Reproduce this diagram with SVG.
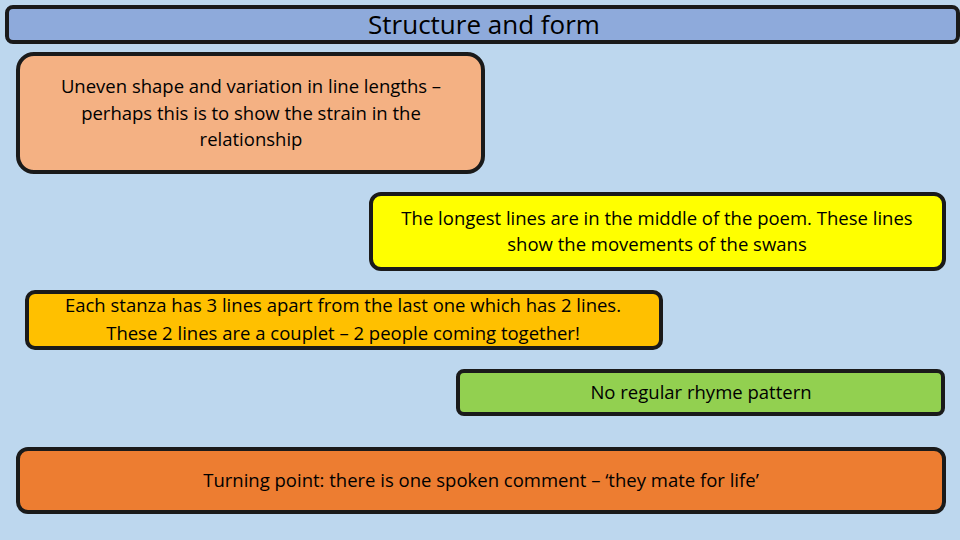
<svg xmlns="http://www.w3.org/2000/svg" width="960" height="540" viewBox="0 0 960 540">
<style>
.b{stroke:#1a1a1a;stroke-width:4}
.t{font-family:"Open Sans","Liberation Sans",sans-serif;font-size:18.5px;font-weight:500;fill:#000;text-anchor:middle}
</style>
<rect width="960" height="540" fill="#BDD7EE"/>
<g id="title"><rect class="b" x="7" y="7" width="951" height="35" rx="6" fill="#8EAADB"/>
<text class="t" x="484" y="34" style="font-size:26px">Structure and form</text></g>
<g id="n1"><rect class="b" x="18" y="54" width="465" height="118" rx="16" fill="#F4B183"/>
<text class="t" x="251" y="93">Uneven shape and variation in line lengths –</text>
<text class="t" x="251" y="120">perhaps this is to show the strain in the</text>
<text class="t" x="251" y="146">relationship</text></g>
<g id="n2"><rect class="b" x="371" y="194" width="573" height="75" rx="10" fill="#FFFF00"/>
<text class="t" x="657" y="225">The longest lines are in the middle of the poem. These lines</text>
<text class="t" x="657" y="251">show the movements of the swans</text></g>
<g id="n3"><rect class="b" x="27" y="292" width="634" height="56" rx="8" fill="#FFC000"/>
<text class="t" x="343" y="312">Each stanza has 3 lines apart from the last one which has 2 lines.</text>
<text class="t" x="343" y="340">These 2 lines are a couplet – 2 people coming together!</text></g>
<g id="n4"><rect class="b" x="458" y="371" width="485" height="43" rx="6" fill="#92D050"/>
<text class="t" x="701" y="399">No regular rhyme pattern</text></g>
<g id="n5"><rect class="b" x="18" y="449" width="926" height="63" rx="10" fill="#ED7D31"/>
<text class="t" x="481" y="487">Turning point: there is one spoken comment – ‘they mate for life’</text></g>
<g id="connectors"/>
</svg>
